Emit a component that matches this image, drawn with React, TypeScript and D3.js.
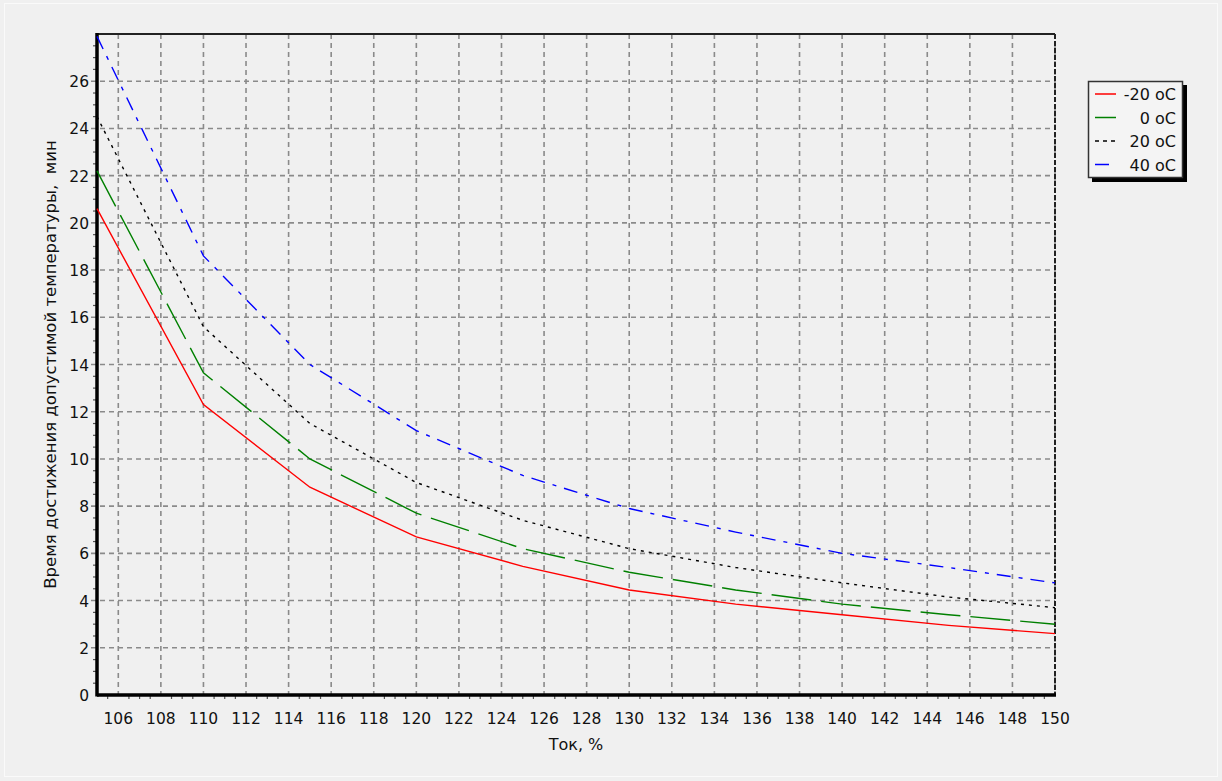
import React, { useRef, useEffect } from 'react';
import * as d3 from 'd3';

// Ток, % (points of the curves)
const current = [105, 110, 115, 120, 125, 130, 135, 140, 145, 150];

// time to reach permitted temperature, min
const tMinus20 = [20.6, 12.3, 8.8, 6.7, 5.45, 4.45, 3.85, 3.4, 2.95, 2.6];
const t0 = [22.2, 13.65, 10.0, 7.7, 6.2, 5.2, 4.45, 3.85, 3.4, 3.0];
const t20 = [24.5, 15.6, 11.5, 9.0, 7.4, 6.2, 5.4, 4.75, 4.15, 3.7];
const t40 = [27.9, 18.6, 14.0, 11.2, 9.3, 7.9, 6.9, 6.0, 5.4, 4.75];

const seriesNames = ['-20 oC', '0 oC', '20 oC', '40 oC'];
const xTicks = [106, 108, 110, 112, 114, 116, 118, 120, 122, 124, 126, 128, 130, 132, 134, 136, 138, 140, 142, 144, 146, 148, 150];
const yTicks = [0, 2, 4, 6, 8, 10, 12, 14, 16, 18, 20, 22, 24, 26];

const W = 1222;
const H = 781;
const FONT = '"DejaVu Sans", Verdana, sans-serif';

const App = () => {
  const svgRef = useRef(null);

  useEffect(() => {
    const margin = { top: 34, right: 167, bottom: 86, left: 97 };
    const svg = d3.select(svgRef.current);
    svg.selectAll('*').remove();

    svg.append('rect').attr('width', W).attr('height', H).attr('fill', '#f0f0f0');
    svg.append('rect').attr('x', 4.5).attr('y', 3.5).attr('width', W - 9).attr('height', H - 8)
      .attr('fill', 'none').attr('stroke', '#fafafa');

    const x = d3.scaleLinear().domain([105, 150]).range([margin.left, W - margin.right]);
    const y = d3.scaleLinear().domain([0, 28]).range([H - margin.bottom, margin.top]);
    const x0 = x.range()[0], x1 = x.range()[1];
    const y0 = y.range()[0], y1 = y.range()[1];

    // grid
    const grid = svg.append('g').attr('stroke', '#8a8a8a').attr('stroke-width', 1.6)
      .attr('stroke-dasharray', '5 4');
    grid.selectAll('.vg').data(xTicks).enter().append('line')
      .attr('x1', d => x(d)).attr('x2', d => x(d)).attr('y1', y1).attr('y2', y0 + 5);
    grid.selectAll('.hg').data(yTicks.filter(d => d > 0)).enter().append('line')
      .attr('y1', d => y(d)).attr('y2', d => y(d)).attr('x1', x0 - 6).attr('x2', x1);

    // minor ticks
    const minorX = d3.range(105.5, 150, 0.5).filter(v => v % 2 !== 0);
    svg.append('g').selectAll('line').data(minorX).enter().append('line')
      .attr('x1', d => x(d)).attr('x2', d => x(d)).attr('y1', y0).attr('y2', y0 + 4)
      .attr('stroke', '#555').attr('stroke-width', 1.2);
    const minorY = d3.range(0.5, 28, 0.5).filter(v => v % 2 !== 0);
    svg.append('g').selectAll('line').data(minorY).enter().append('line')
      .attr('y1', d => y(d)).attr('y2', d => y(d)).attr('x1', x0 - 4).attr('x2', x0)
      .attr('stroke', '#555').attr('stroke-width', 1.2);

    // frame
    svg.append('line').attr('x1', x0).attr('x2', x1).attr('y1', y1).attr('y2', y1)
      .attr('stroke', '#222').attr('stroke-width', 2);
    svg.append('line').attr('x1', x1).attr('x2', x1).attr('y1', y1).attr('y2', y0)
      .attr('stroke', '#222').attr('stroke-width', 2).attr('stroke-dasharray', '5 2');
    svg.append('line').attr('x1', x0).attr('x2', x0).attr('y1', y1 - 1).attr('y2', y0 + 1.5)
      .attr('stroke', '#000').attr('stroke-width', 3.5);
    svg.append('line').attr('x1', x0).attr('x2', x1 + 1).attr('y1', y0).attr('y2', y0)
      .attr('stroke', '#000').attr('stroke-width', 3.5);

    // tick labels
    svg.append('g').selectAll('text').data(xTicks).enter().append('text')
      .attr('x', d => x(d)).attr('y', y0 + 29).attr('text-anchor', 'middle')
      .attr('font-family', FONT).attr('font-size', 15.5).attr('fill', '#111')
      .text(d => d);
    svg.append('g').selectAll('text').data(yTicks).enter().append('text')
      .attr('x', x0 - 8).attr('y', d => y(d) + 6).attr('text-anchor', 'end')
      .attr('font-family', FONT).attr('font-size', 15.5).attr('fill', '#111')
      .text(d => d);

    // axis titles
    svg.append('text').attr('x', (x0 + x1) / 2).attr('y', 750).attr('text-anchor', 'middle')
      .attr('font-family', FONT).attr('font-size', 16).attr('fill', '#111').text('Ток, %');
    svg.append('text')
      .attr('transform', `translate(56, ${(y0 + y1) / 2}) rotate(-90)`)
      .attr('text-anchor', 'middle')
      .attr('font-family', FONT).attr('font-size', 16.5).attr('fill', '#111')
      .attr('xml:space', 'preserve')
      .text('Время достижения допустимой температуры,  мин');

    // curves
    const styles = [
      { color: '#ff0000', dash: null },
      { color: '#008000', dash: '40 10' },
      { color: '#000000', dash: '3 5' },
      { color: '#0000ff', dash: '14 8 4 8' },
    ];
    const series = [tMinus20, t0, t20, t40];
    const line = d3.line<number>().x((d, i) => x(current[i])).y(d => y(d));
    series.forEach((vals, k) => {
      svg.append('path').datum(vals)
        .attr('fill', 'none').attr('stroke', styles[k].color).attr('stroke-width', 1.4)
        .attr('stroke-dasharray', styles[k].dash)
        .attr('d', line);
    });

    // legend
    const lg = svg.append('g').attr('transform', 'translate(1088, 81)');
    lg.append('rect').attr('x', 4).attr('y', 4).attr('width', 95).attr('height', 97).attr('fill', '#000');
    lg.append('rect').attr('x', 0.5).attr('y', 0.5).attr('width', 94).attr('height', 96)
      .attr('fill', '#f4f4f4').attr('stroke', '#333').attr('stroke-width', 1.5);
    seriesNames.forEach((name, k) => {
      const cy = 13 + k * 23.5;
      lg.append('line').attr('x1', 7).attr('x2', 28).attr('y1', cy).attr('y2', cy)
        .attr('stroke', styles[k].color).attr('stroke-width', 1.5)
        .attr('stroke-dasharray', k === 2 ? '4 4' : k === 3 ? '14 10' : null);
      lg.append('text').attr('x', 88).attr('y', cy + 6).attr('text-anchor', 'end')
        .attr('font-family', FONT).attr('font-size', 16).attr('fill', '#111').text(name);
    });
  }, []);

  return (
    <div style={{ position: 'fixed', left: 0, top: 0 }}>
      <svg ref={svgRef} width={W} height={H} style={{ display: 'block' }}></svg>
    </div>
  );
};

export default App;
